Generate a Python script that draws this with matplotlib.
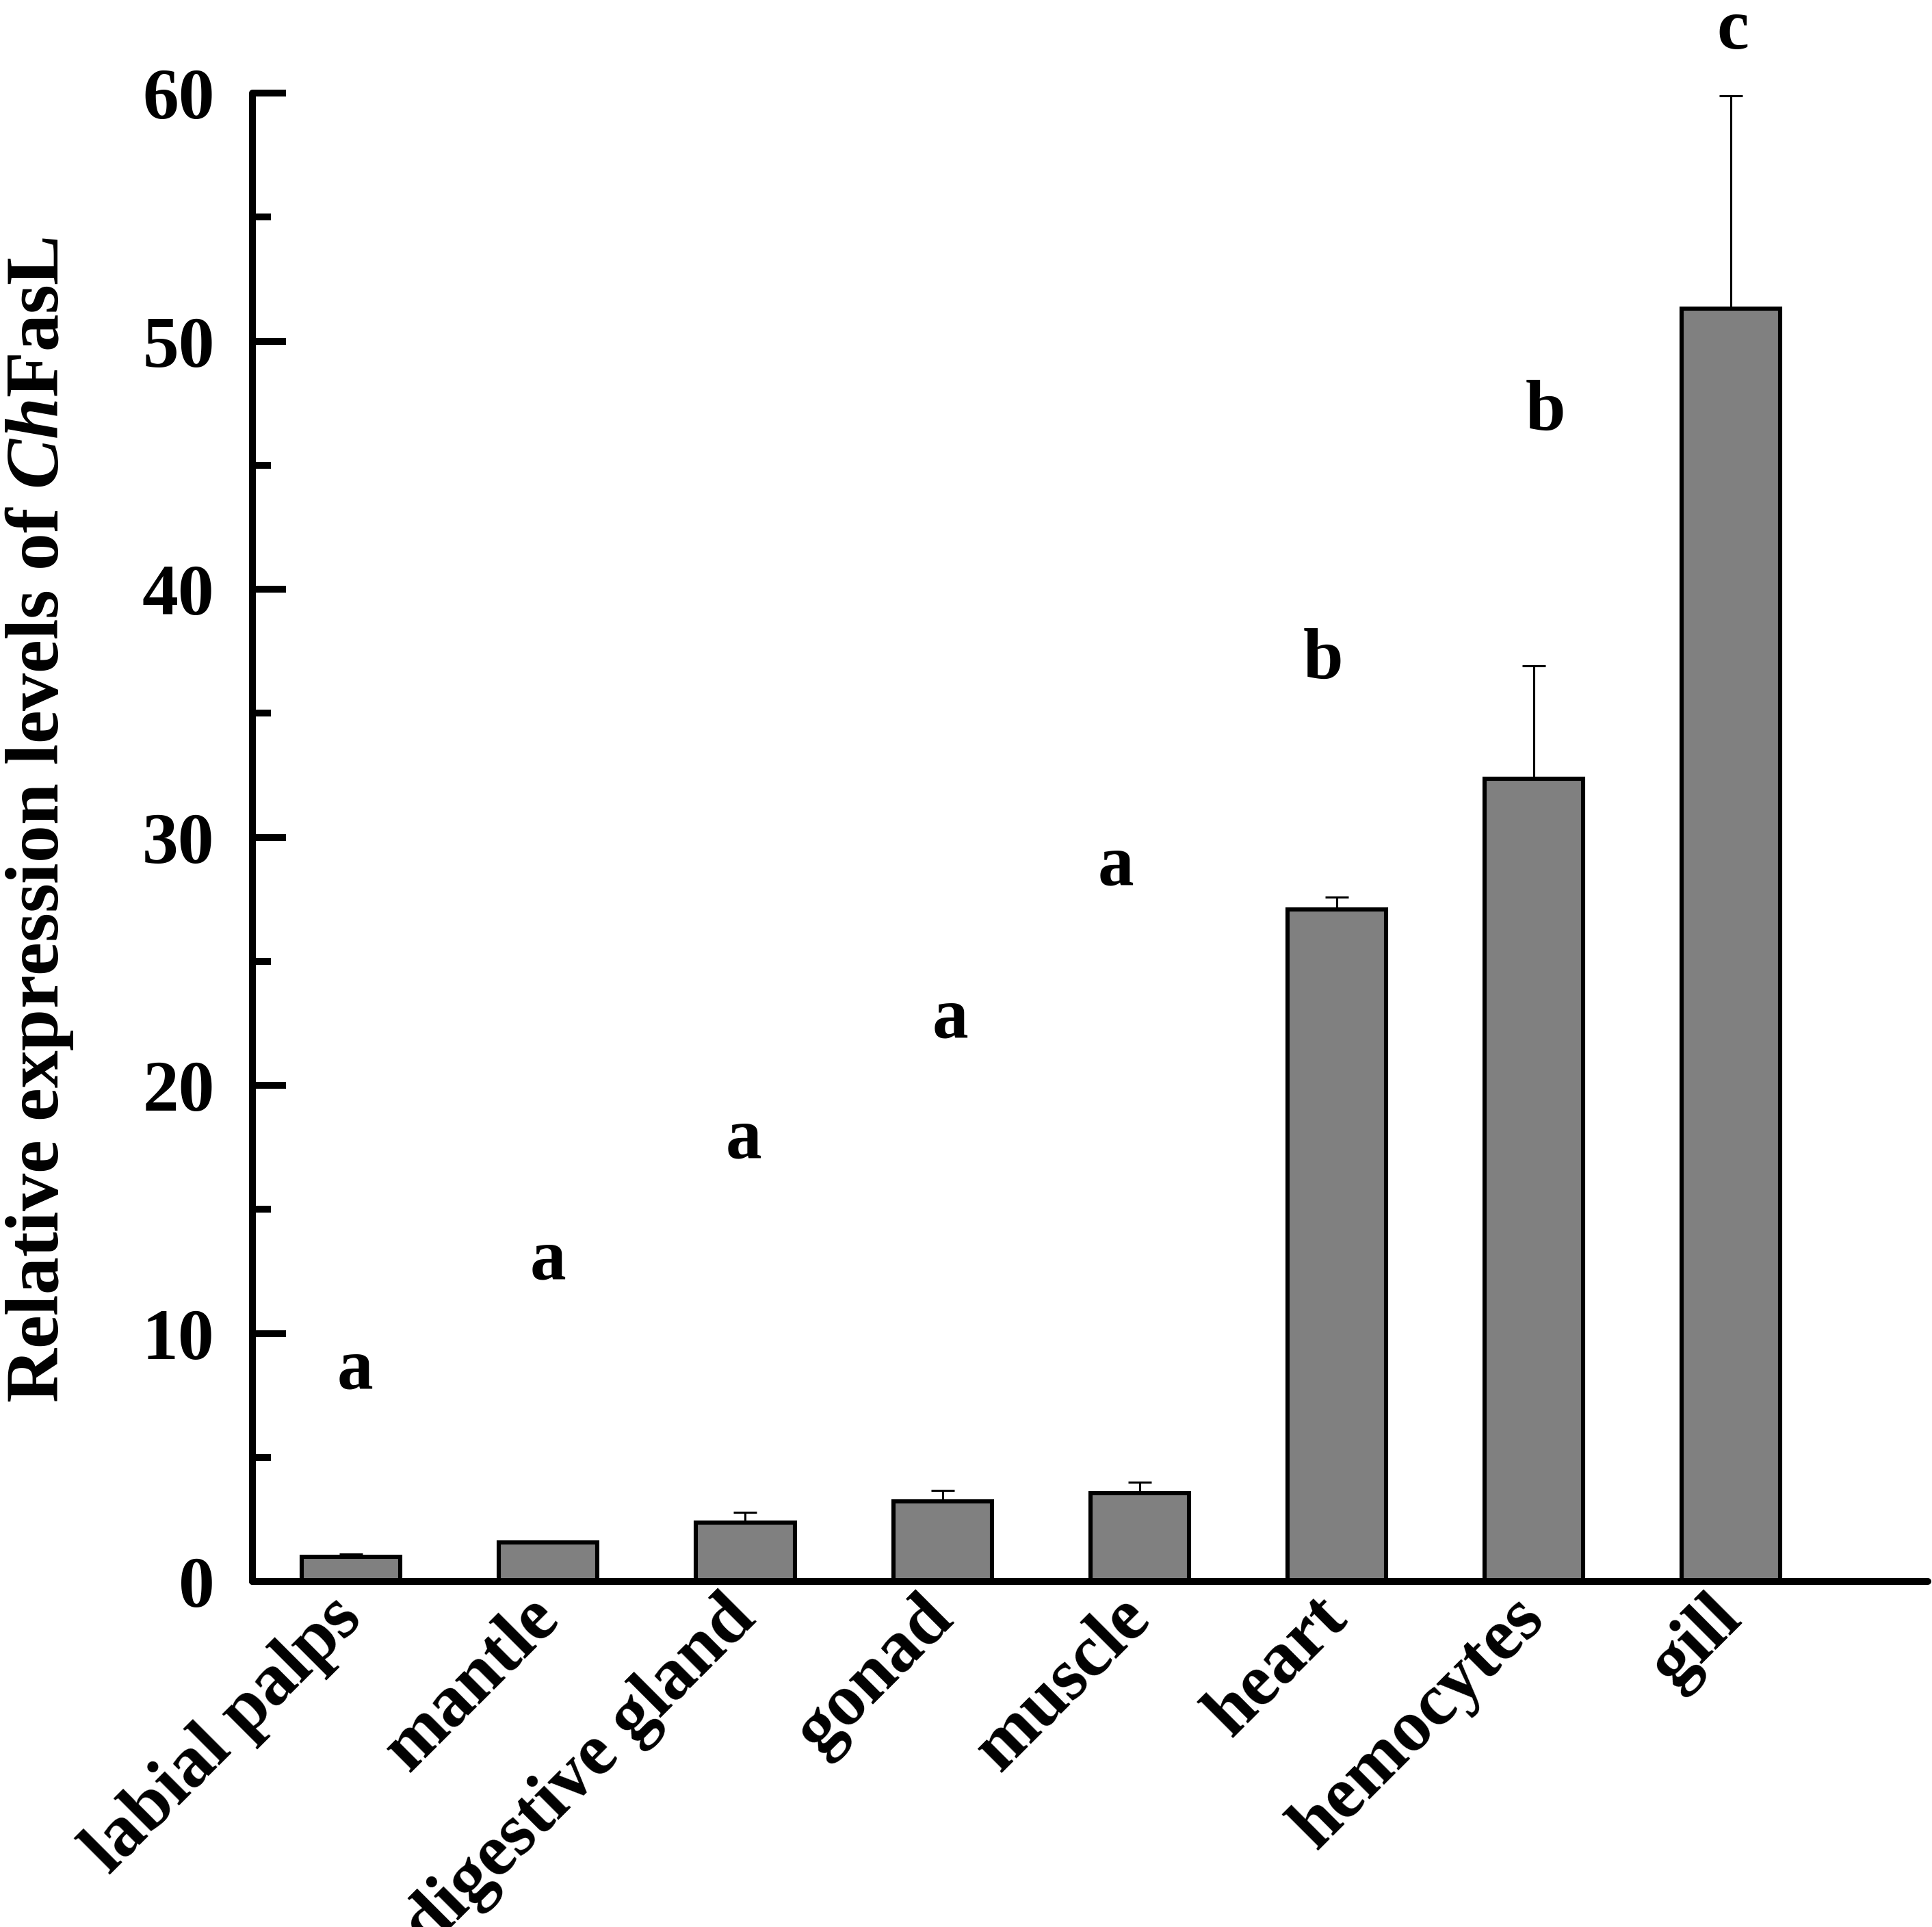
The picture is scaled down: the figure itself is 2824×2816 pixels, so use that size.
import numpy as np
import matplotlib
matplotlib.use("Agg")
import matplotlib.pyplot as plt

tissues = ["labial palps", "mantle", "digestive gland", "gonad",
           "muscle", "heart", "hemocytes", "gill"]
expression = [1.0, 1.57, 2.38, 3.22, 3.55, 27.1, 32.35, 51.3]
sd = [0.1, 0.03, 0.4, 0.46, 0.46, 0.5, 4.55, 8.6]
letters = ["a", "a", "a", "a", "a", "b", "b", "c"]
letter_x = [0.02, 1.0, 1.99, 3.04, 3.88, 4.93, 6.06, 7.01]
letter_y = [8.5, 12.9, 17.8, 22.65, 28.8, 37.1, 47.1, 62.5]

plt.rcParams['font.family'] = ['Liberation Serif', 'DejaVu Serif']
plt.rcParams['font.weight'] = 'bold'
plt.rcParams['mathtext.fontset'] = 'custom'
plt.rcParams['mathtext.it'] = 'Liberation Serif:bold:italic'
plt.rcParams['mathtext.rm'] = 'Liberation Serif:bold'

fig = plt.figure(figsize=(14.12, 14.08), dpi=200)
ax = fig.add_axes([0.1307, 0.1793, 0.8673, 0.7724])

x = np.arange(len(tissues))
ax.bar(x, expression, width=0.5, color='#808080', edgecolor='black',
       linewidth=2.2, zorder=2)
ax.errorbar(x, expression, yerr=[np.zeros(len(sd)), sd], fmt='none',
            ecolor='black', elinewidth=1.1, capsize=6, capthick=1.1, zorder=1)

for xi, yi, t in zip(letter_x, letter_y, letters):
    ax.text(xi, yi, t, ha='center', va='center', fontsize=38,
            fontweight='bold', clip_on=False)

ax.set_xlim(-0.5, 8.0)
ax.set_ylim(0, 60)
ax.spines['top'].set_visible(False)
ax.spines['right'].set_visible(False)
ax.spines['left'].set_linewidth(3.6)
ax.spines['bottom'].set_linewidth(3.6)
ax.spines['left'].set_capstyle('round')
ax.spines['bottom'].set_capstyle('round')

ax.set_yticks(np.arange(0, 61, 10))
ax.set_yticks(np.arange(5, 60, 10), minor=True)
ax.tick_params(axis='y', which='major', direction='in', length=17.6,
               width=3.6, labelsize=38, pad=20)
ax.tick_params(axis='y', which='minor', direction='in', length=9.6, width=3.6)
for lab in ax.get_yticklabels():
    lab.set_fontweight('bold')

ax.set_xticks(x)
ax.set_xticklabels(tissues, rotation=45, ha='right', va='center',
                   rotation_mode='anchor', fontsize=38.5, fontweight='bold')
ax.tick_params(axis='x', length=0, pad=14)

fig.text(58 / 2824, 0.5746, r'Relative expression levels of $\mathit{Ch}$FasL',
         rotation=90, ha='center', va='center', fontsize=39.5, fontweight='bold')

fig.savefig('out.png', dpi=200)
